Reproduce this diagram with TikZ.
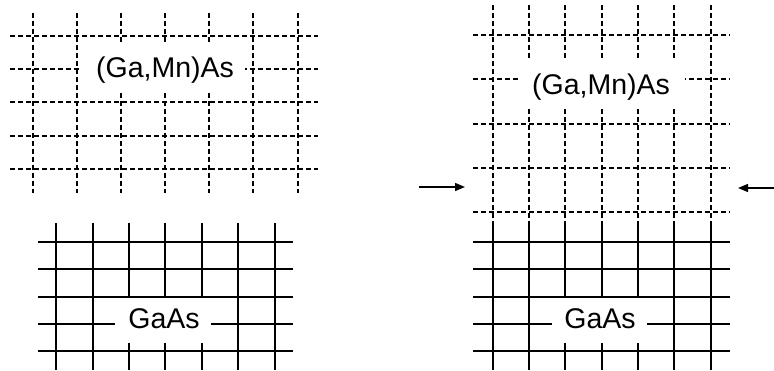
\documentclass[tikz,border=0pt]{standalone}
\usepackage{fontspec}
\setmainfont{Liberation Sans}
\usetikzlibrary{arrows.meta}
\begin{document}
\begin{tikzpicture}[x=1pt,y=-1pt,
  dgrid/.style={line width=1.4pt,dash pattern=on 5pt off 3pt},
  sgrid/.style={line width=1.7pt},
  lbl/.style={inner sep=0pt,anchor=base,font=\fontsize{28.5}{34}\selectfont},
  arr/.style={line width=1.4pt,-{Triangle[length=10pt,width=8pt]}}]
\useasboundingbox (0,0) rectangle (774,371);
% ---------- left, (Ga,Mn)As dashed lattice ----------
\foreach \x in {33,77,121,165,209,253,298}{\draw[dgrid] (\x,13) -- (\x,193);}
\foreach \y in {36,69,102,136,169}{\draw[dgrid] (10,\y) -- (318,\y);}
\fill[white] (80,42) rectangle (245,91);
\node[lbl] (gm1) at (165,78) {(Ga,Mn)As};
% ---------- left, GaAs solid lattice ----------
\foreach \x in {56,93,129,165,202,238,275}{\draw[sgrid] (\x,223) -- (\x,370);}
\foreach \y in {242,269,297,324,351}{\draw[sgrid] (38,\y) -- (293,\y);}
\fill[white] (115,298) rectangle (211,343);
\node[lbl] (ga1) at (164,329) {GaAs};
% ---------- right, strained (Ga,Mn)As on GaAs ----------
\foreach \x in {493,529,565,602,638,674,711}{
  \draw[dgrid] (\x,5) -- (\x,222);
  \draw[sgrid] (\x,222) -- (\x,370);}
\foreach \y in {35,79,124,168,212}{\draw[dgrid] (473,\y) -- (730,\y);}
\foreach \y in {242,269,297,324,351}{\draw[sgrid] (473,\y) -- (730,\y);}
\fill[white] (520,60) rectangle (685,108);
\node[lbl] (gm2) at (601,95) {(Ga,Mn)As};
\fill[white] (552,298) rectangle (647,343);
\node[lbl] (ga2) at (600,329) {GaAs};
% ---------- arrows ----------
\coordinate (la0) at (419,187);
\coordinate (la1) at (465,187);
\coordinate (ra0) at (774,188);
\coordinate (ra1) at (738,188);
\draw[arr] (la0) -- (la1);
\draw[arr] (ra0) -- (ra1);
\end{tikzpicture}
\end{document}
